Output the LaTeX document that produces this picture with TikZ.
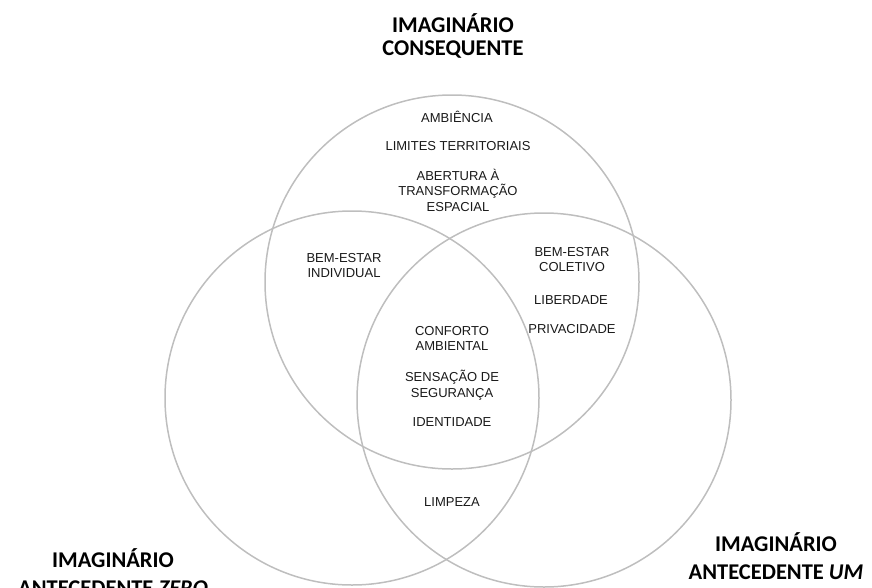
\documentclass[tikz,border=0pt]{standalone}
\usepackage{fontspec}
\setmainfont{Liberation Sans}
\newfontfamily\headfont{Carlito}
\definecolor{ringgray}{RGB}{190,190,190}

\begin{document}
\begin{tikzpicture}[x=1pt,y=-1pt,
  ring/.style={circle, draw=ringgray, line width=1.5pt, minimum size=374pt, inner sep=0pt},
  item/.style={align=center, inner sep=0pt, text=black!90, font=\fontsize{13}{15.5}\selectfont},
  title/.style={align=center, inner sep=0pt, font=\headfont\bfseries\fontsize{22.5}{23}\selectfont},
  lowtitle/.style={title, font=\headfont\bfseries\fontsize{22.5}{28}\selectfont}]

\useasboundingbox (0,0) rectangle (872,587);

\node (cons) at (452,282) [ring] {};
\node (zero) at (352,398) [ring] {};
\node (um) at (544,400) [ring] {};

\node (tcons) at (453,35.5) [title] {IMAGINÁRIO\\CONSEQUENTE};
\node (tzero) at (113,572) [lowtitle] {IMAGINÁRIO\\ANTECEDENTE \textit{ZERO}};
\node (tum) at (776,556.5) [lowtitle] {IMAGINÁRIO\\ANTECEDENTE \textit{UM}};

\node (ambiencia) at (457,117) [item] {AMBIÊNCIA};
\node (limites) at (458,146) [item] {LIMITES TERRITORIAIS};
\node (abertura) at (458,190) [item] {ABERTURA À\\TRANSFORMAÇÃO\\ESPACIAL};

\node (bemind) at (344,265.5) [item] {BEM-ESTAR\\INDIVIDUAL};
\node (bemcol) at (572,259.5) [item] {BEM-ESTAR\\COLETIVO};
\node (liberdade) at (571,300) [item] {LIBERDADE};
\node (privacidade) at (572,329) [item] {PRIVACIDADE};

\node (conforto) at (452,338.5) [item] {CONFORTO\\AMBIENTAL};
\node (sensacao) at (452,385) [item] {SENSAÇÃO DE\\SEGURANÇA};
\node (identidade) at (452,422) [item] {IDENTIDADE};

\node (limpeza) at (452,502) [item] {LIMPEZA};
\end{tikzpicture}
\end{document}
